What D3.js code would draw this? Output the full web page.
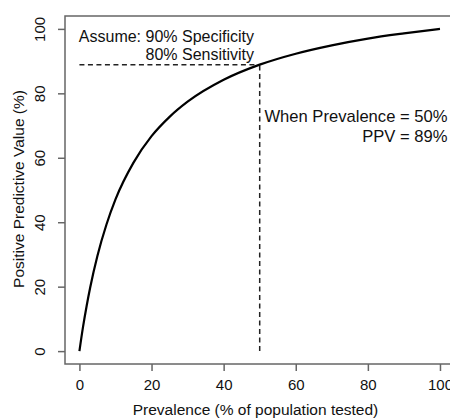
<!DOCTYPE html>
<html>
<head>
<meta charset="utf-8">
<script src="https://cdn.jsdelivr.net/npm/d3@7"></script>
<style>
  body { margin: 0; background: #fff; }
  text { font-family: "Liberation Sans", Arial, Helvetica, sans-serif; fill: #111; }
</style>
</head>
<body>
<script>
    //data
    var prevalence = [0, 1, 2, 3, 5, 7.5, 10, 15, 20, 25, 30, 40, 50, 60, 70, 80, 90, 100];
    var ppv = [0, 7.5, 14.0, 19.8, 29.6, 39.3, 47.1, 58.5, 66.7, 72.7, 77.4, 84.2, 88.9, 92.3, 94.9, 97.0, 98.6, 100];
    var xTicks = [0, 20, 40, 60, 80, 100];
    var yTicks = [0, 20, 40, 60, 80, 100];
    var marker = { prevalence: 50, ppv: 88.9 };

    var width = 450;
    var height = 418;

    //plot box (R style, 4% padding each side)
    var box = { left: 65, right: 454.4, top: 16, bottom: 364 };

    var xScale = d3.scaleLinear()
        .domain([-4, 104])
        .range([box.left, box.right]);

    var yScale = d3.scaleLinear()
        .domain([-4, 104])
        .range([box.bottom, box.top]);

    var svg = d3.select("body")
        .append("svg")
        .attr("width", width)
        .attr("height", height);

    //box
    svg.append("rect")
        .attr("x", box.left)
        .attr("y", box.top)
        .attr("width", box.right - box.left)
        .attr("height", box.bottom - box.top)
        .attr("fill", "none")
        .attr("stroke", "#666")
        .attr("stroke-width", 1.5);

    //x axis
    var xAxis = d3.axisBottom(xScale).tickValues(xTicks).tickSize(7).tickSizeOuter(0);
    var gx = svg.append("g")
        .attr("transform", "translate(0," + box.bottom + ")")
        .call(xAxis);
    gx.select(".domain").remove();
    gx.selectAll("line").attr("stroke", "#666").attr("stroke-width", 1.5);
    gx.selectAll("text")
        .attr("y", 26)
        .attr("dy", null)
        .attr("fill", "#111")
        .style("font-size", "15px");

    //y axis, labels turned like R
    var yAxis = d3.axisLeft(yScale).tickValues(yTicks).tickSize(7).tickSizeOuter(0);
    var gy = svg.append("g")
        .attr("transform", "translate(" + box.left + ",0)")
        .call(yAxis);
    gy.select(".domain").remove();
    gy.selectAll("line").attr("stroke", "#666").attr("stroke-width", 1.5);
    gy.selectAll("text")
        .attr("x", null)
        .attr("dy", null)
        .attr("text-anchor", "middle")
        .attr("fill", "#111")
        .attr("transform", "translate(-20,0) rotate(-90)")
        .style("font-size", "15px");

    //axis titles
    svg.append("text")
        .attr("x", 255.5)
        .attr("y", 414.5)
        .attr("text-anchor", "middle")
        .style("font-size", "15.5px")
        .text("Prevalence (% of population tested)");

    svg.append("text")
        .attr("transform", "translate(23.5,189) rotate(-90)")
        .attr("text-anchor", "middle")
        .style("font-size", "15.5px")
        .text("Positive Predictive Value (%)");

    //dashed guide lines
    svg.append("line")
        .attr("x1", xScale(0))
        .attr("x2", xScale(marker.prevalence))
        .attr("y1", yScale(marker.ppv))
        .attr("y2", yScale(marker.ppv))
        .attr("stroke", "#222")
        .attr("stroke-width", 1.5)
        .attr("stroke-dasharray", "5,3.5");

    svg.append("line")
        .attr("x1", xScale(marker.prevalence))
        .attr("x2", xScale(marker.prevalence))
        .attr("y1", yScale(0))
        .attr("y2", yScale(marker.ppv))
        .attr("stroke", "#222")
        .attr("stroke-width", 1.5)
        .attr("stroke-dasharray", "5,3.5");

    //ppv curve
    var line = d3.line()
        .x(function (d, i) { return xScale(prevalence[i]); })
        .y(function (d) { return yScale(d); })
        .curve(d3.curveMonotoneX);

    svg.append("path")
        .datum(ppv)
        .attr("d", line)
        .attr("fill", "none")
        .attr("stroke", "#000")
        .attr("stroke-width", 2.2);

    //notes
    svg.append("text")
        .attr("x", 254).attr("y", 41.5)
        .attr("text-anchor", "end")
        .style("font-size", "16px")
        .text("Assume: 90% Specificity");
    svg.append("text")
        .attr("x", 254).attr("y", 60)
        .attr("text-anchor", "end")
        .style("font-size", "16px")
        .text("80% Sensitivity");

    svg.append("text")
        .attr("x", 447.5).attr("y", 121.5)
        .attr("text-anchor", "end")
        .style("font-size", "16.6px")
        .text("When Prevalence = 50%");
    svg.append("text")
        .attr("x", 447.5).attr("y", 141.5)
        .attr("text-anchor", "end")
        .style("font-size", "16.6px")
        .text("PPV = 89%");
</script>
</body>
</html>
